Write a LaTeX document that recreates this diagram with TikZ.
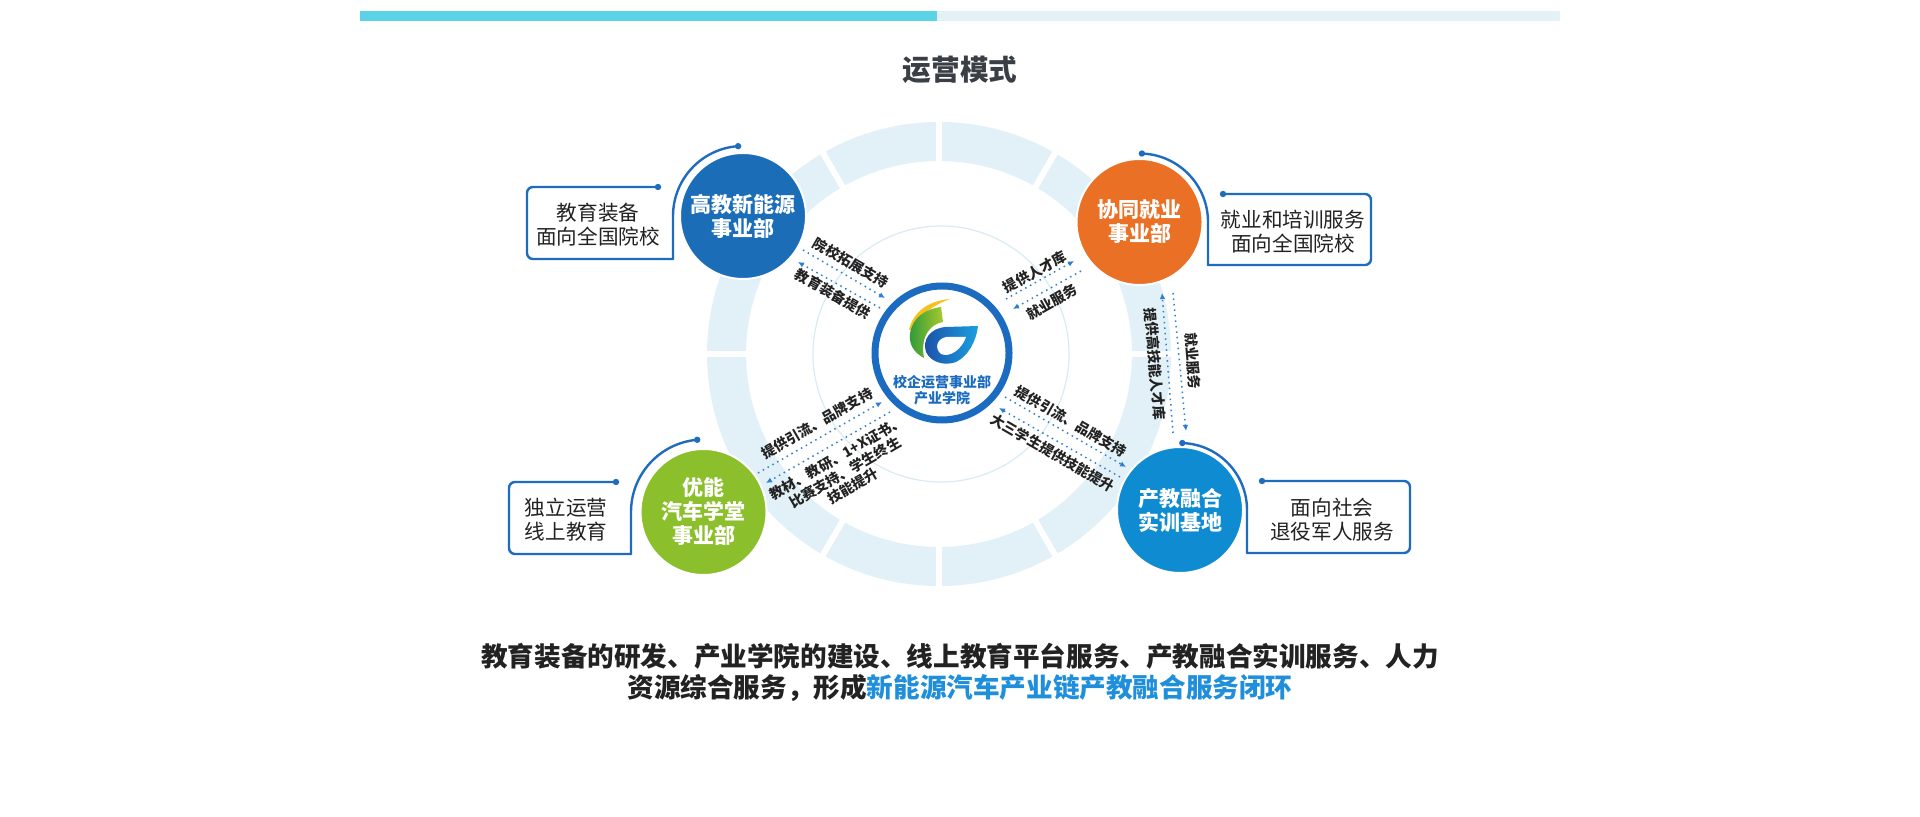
\documentclass[tikz,border=0pt]{standalone}
\usepackage{fontspec}
\setmainfont{Noto Sans CJK SC}
\usepackage{tikz}
\usetikzlibrary{arrows.meta}

\definecolor{barcyan}{HTML}{5AD3E6}
\definecolor{barpale}{HTML}{E3F2F7}
\definecolor{ringblue}{HTML}{E2F1F7}
\definecolor{ringline}{HTML}{D8ECF4}
\definecolor{titlegray}{HTML}{3A3F46}
\definecolor{textdark}{HTML}{222222}
\definecolor{lineblue}{HTML}{1F6CBF}
\definecolor{flowblue}{HTML}{2E7FD0}
\definecolor{hubblue}{HTML}{1B6CC0}
\definecolor{deptblue}{HTML}{1B6DB8}
\definecolor{deptorange}{HTML}{E97024}
\definecolor{deptgreen}{HTML}{8CBF2C}
\definecolor{deptsky}{HTML}{0F8BD2}
\definecolor{hlblue}{HTML}{1F8FDB}
\definecolor{logoyellow}{HTML}{F6C11A}
\definecolor{logogreenD}{HTML}{2E9A3C}
\definecolor{logogreenL}{HTML}{A8C92A}
\definecolor{logoblueD}{HTML}{1D4FA8}
\definecolor{logoblueL}{HTML}{19A0E0}

\tikzset{
  dept/.style={circle, minimum size=63pt, inner sep=0pt, align=center, text=white,
    draw=white, line width=1pt, font=\fontsize{10.5}{12}\selectfont\bfseries},
  infotext/.style={align=center, text=textdark, font=\fontsize{10.3}{12}\selectfont},
  boxline/.style={draw=lineblue, line width=1.2pt, line cap=round, line join=round},
  flow/.style={draw=flowblue, dotted, line width=0.75pt, -{Latex[length=3pt,width=2.8pt]}},
  flowlabel/.style={font=\fontsize{7}{8}\selectfont\bfseries, text=textdark,
    inner sep=0pt, align=center}
}

\begin{document}
\begin{tikzpicture}[x=0.5pt, y=-0.5pt]
\useasboundingbox (0,0) rectangle (1920,817);
\fill[white] (0,0) rectangle (1920,817);
\fill[barcyan] (360,11) rectangle (937,21);
\fill[barpale] (937,11) rectangle (1560,21);
\node[font=\fontsize{14.3}{16}\selectfont\bfseries, text=titlegray] (title) at (960,70) {运营模式};

% ring
\draw[ringblue, line width=19.5pt] (939,354) circle[radius=106.25pt];
\foreach \a in {0,60,90,120,180,240,270,300}
  \draw[white, line width=3pt] (939,354) ++(\a:92pt) -- ++(\a:26pt);
\draw[ringline, line width=0.6pt] (941,354) circle[radius=64pt];

% hub
\node[circle, draw=hubblue, line width=3.5pt, fill=white, minimum size=67pt] (hub) at (942,353) {};
\node[font=\fontsize{7}{8}\selectfont\bfseries, text=hubblue, align=center] (hubname) at (942,390)
  {校企运营事业部\\产业学院};
\fill[logoyellow] (909,330) .. controls (913,312) and (928,301) .. (950,299)
  .. controls (934,305) and (920,314) .. (912,330) -- cycle;
\shade[left color=logogreenD, right color=logogreenL] (910,334) .. controls (912,318) and (925,309) .. (941,307)
  -- (943,322) .. controls (930,324) and (920,337) .. (924,358)
  .. controls (913,352) and (909,344) .. (910,334) -- cycle;
\shade[left color=logoblueD, right color=logoblueL] (978,326) -- (946,327)
  .. controls (930,328) and (922,340) .. (926,352) .. controls (931,363) and (946,366) .. (956,362)
  .. controls (968,356) and (976,342) .. (978,326) -- cycle;
\fill[white] (946,337) .. controls (937,339) and (934,348) .. (941,354)
  .. controls (950,358) and (962,349) .. (966,337) -- cycle;

% departments
\node[dept, fill=deptblue] (gaojiao) at (743,216) {高教新能源\\事业部};
\node[dept, fill=deptorange] (xietong) at (1139.5,222) {协同就业\\事业部};
\node[dept, fill=deptgreen] (youneng) at (703.5,512) {优能\\汽车学堂\\事业部};
\node[dept, fill=deptsky] (chanjiao) at (1180,510) {产教融合\\实训基地};

% info boxes
\node[infotext] (eduinfo) at (598,225) {教育装备\\面向全国院校};
\draw[boxline, rounded corners=3pt] (658,187) -- (527,187) -- (527,259) -- (673,259);
\draw[boxline] (673,259) -- (673,216) arc[start angle=180, end angle=94, radius=35pt] coordinate (eduarc);
\fill[lineblue] (658,187) circle[radius=1.6pt] (eduarc) circle[radius=1.6pt];

\node[infotext] (jobinfo) at (1293,232) {就业和培训服务\\面向全国院校};
\draw[boxline, rounded corners=3pt] (1223,194) -- (1371,194) -- (1371,265) -- (1208,265);
\draw[boxline] (1208,265) -- (1208,222) arc[start angle=0, end angle=88, radius=34.25pt] coordinate (jobarc);
\fill[lineblue] (1223,194) circle[radius=1.6pt] (jobarc) circle[radius=1.6pt];

\node[infotext] (selfinfo) at (566,520) {独立运营\\线上教育};
\draw[boxline, rounded corners=3pt] (616,482) -- (509,482) -- (509,554) -- (631,554);
\draw[boxline] (631,554) -- (631,512) arc[start angle=180, end angle=95, radius=36.25pt] coordinate (selfarc);
\fill[lineblue] (616,482) circle[radius=1.6pt] (selfarc) circle[radius=1.6pt];

\node[infotext] (socinfo) at (1332,519.5) {面向社会\\退役军人服务};
\draw[boxline, rounded corners=3pt] (1262,481) -- (1410,481) -- (1410,553) -- (1247,553);
\draw[boxline] (1247,553) -- (1247,510) arc[start angle=0, end angle=88, radius=33.5pt] coordinate (socarc);
\fill[lineblue] (1262,481) circle[radius=1.6pt] (socarc) circle[radius=1.6pt];

% flows
\coordinate (g1a) at (803,250);  \coordinate (g1b) at (885,298);
\coordinate (g2a) at (880,308);  \coordinate (g2b) at (798,262);
\draw[flow] (g1a) -- (g1b);
\draw[flow] (g2a) -- (g2b);
\node[flowlabel, rotate=-30] (g1lab) at (851,263) {院校拓展支持};
\node[flowlabel, rotate=-30] (g2lab) at (833,294) {教育装备提供};

\coordinate (x1a) at (1006,299); \coordinate (x1b) at (1074,261);
\coordinate (x2a) at (1081,271); \coordinate (x2b) at (1013,309);
\draw[flow] (x1a) -- (x1b);
\draw[flow] (x2a) -- (x2b);
\node[flowlabel, rotate=29] (x1lab) at (1035,272) {提供人才库};
\node[flowlabel, rotate=29] (x2lab) at (1052,302) {就业服务};

\coordinate (v1a) at (1173,433); \coordinate (v1b) at (1162,293);
\coordinate (v2a) at (1173,293); \coordinate (v2b) at (1186,431);
\draw[flow] (v1a) -- (v1b);
\draw[flow] (v2a) -- (v2b);
\node[flowlabel, rotate=-85] (v1lab) at (1155,364) {提供高技能人才库};
\node[flowlabel, rotate=-85] (v2lab) at (1193,361) {就业服务};

\coordinate (c1a) at (1005,397); \coordinate (c1b) at (1126,467);
\coordinate (c2a) at (1120,477); \coordinate (c2b) at (999,408);
\draw[flow] (c1a) -- (c1b);
\draw[flow] (c2a) -- (c2b);
\node[flowlabel, rotate=-30] (c1lab) at (1071,421) {提供引流、品牌支持};
\node[flowlabel, rotate=-30] (c2lab) at (1053,453) {大三学生提供技能提升};

\coordinate (y1a) at (758,473);  \coordinate (y1b) at (882,402);
\coordinate (y2a) at (890,412);  \coordinate (y2b) at (766,483);
\draw[flow] (y1a) -- (y1b);
\draw[flow] (y2a) -- (y2b);
\node[flowlabel, rotate=30] (y1lab) at (817,423) {提供引流、品牌支持};
\node[flowlabel, rotate=30, font=\fontsize{7}{8.2}\selectfont\bfseries] (y2lab) at (845,472)
  {教材、教研、1+X证书、\\比赛支持、学生终生\\技能提升};

% summary
\node[font=\fontsize{13.3}{15.5}\selectfont\bfseries, text=textdark, align=center] (summary) at (960,672)
  {教育装备的研发、产业学院的建设、线上教育平台服务、产教融合实训服务、人力\\
   资源综合服务，形成\textcolor{hlblue}{新能源汽车产业链产教融合服务闭环}};
\end{tikzpicture}
\end{document}
